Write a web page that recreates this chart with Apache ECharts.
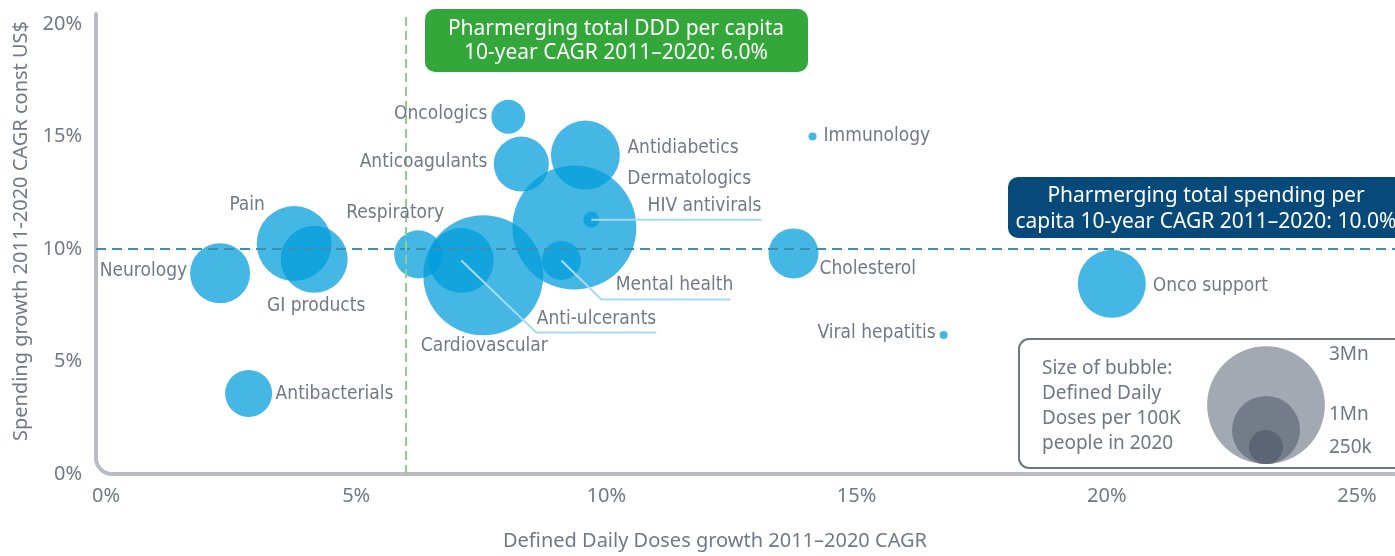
<!DOCTYPE html>
<html>
<head>
<meta charset="utf-8">
<title>Pharmerging therapy areas</title>
<script src="https://cdn.jsdelivr.net/npm/echarts@6/dist/echarts.min.js"></script>
<style>
  html, body { margin: 0; padding: 0; background: #fff; }
  #chart { width: 1395px; height: 556px; }
</style>
</head>
<body>
<div id="chart"></div>
<script>
// therapy areas
const categories = ['Neurology', 'Pain', 'GI products', 'Antibacterials', 'Respiratory', 'Cardiovascular',
  'Anti-ulcerants', 'Mental health', 'Dermatologics', 'HIV antivirals', 'Antidiabetics', 'Anticoagulants',
  'Oncologics', 'Immunology', 'Cholesterol', 'Viral hepatitis', 'Onco support']
// x: DDD growth 2011-2020 CAGR (%)
const dddGrowth = [2.28, 3.76, 4.16, 2.85, 6.24, 7.54, 7.1, 9.1, 9.36, 9.7, 9.58, 8.3, 8.04, 14.12, 13.74, 16.74, 20.1]
// y: spending growth 2011-2020 CAGR const US$ (%)
const spendGrowth = [8.92, 10.24, 9.54, 3.58, 9.76, 8.83, 9.49, 9.49, 10.95, 11.3, 14.17, 13.77, 15.87, 15.0, 9.8, 6.18, 8.45]
// bubble size: DDD per 100K people in 2020 (thousands)
const dddPer100k = [780, 1215, 970, 478, 500, 3115, 915, 330, 3325, 55, 1030, 655, 250, 14, 540, 14, 1000]

const xTicks = [0, 5, 10, 15, 20, 25]
const yTicks = [0, 5, 10, 15, 20]
const avgDddGrowth = 6.0
const avgSpendGrowth = 10.0

const legendSizes = [3000, 1000, 250]
const legendLabels = ['3Mn', '1Mn', '250k']

// bubble radius in px, area ~ DDD
function bubbleRadius(v) {
  return 34 * Math.sqrt(v / 1000)
}

// label placement (px offsets from bubble centre)
const labelLayout = {
  'Neurology': { dx: -33, dy: -2, align: 'right' },
  'Pain': { dx: -47, dy: -38, align: 'center' },
  'GI products': { dx: 2, dy: 47, align: 'center' },
  'Antibacterials': { dx: 27, dy: 1, align: 'left' },
  'Respiratory': { dx: -23, dy: -41, align: 'center' },
  'Cardiovascular': { dx: 1, dy: 71, align: 'center' },
  'Oncologics': { dx: -21, dy: -3, align: 'right' },
  'Anticoagulants': { dx: -34, dy: -2, align: 'right' },
  'Antidiabetics': { dx: 42, dy: -7, align: 'left' },
  'Dermatologics': { dx: 53, dy: -49, align: 'left' },
  'HIV antivirals': { dx: 170, dy: -14, align: 'right', leader: [[0, 0], [170, 0]] },
  'Immunology': { dx: 11, dy: 0, align: 'left' },
  'Cholesterol': { dx: 26, dy: 16, align: 'left' },
  'Viral hepatitis': { dx: -8, dy: -2, align: 'right' },
  'Onco support': { dx: 41, dy: 2, align: 'left' },
  'Mental health': { dx: 172, dy: 25, align: 'right', leader: [[0, 0], [40, 39], [169, 39]] },
  'Anti-ulcerants': { dx: 195, dy: 59, align: 'right', leader: [[0, 0], [75, 72], [195, 72]] }
}

const textGray = '#717987'
const labelFont = "'Liberation Sans Narrow', 'DejaVu Sans Condensed', 'Noto Sans', sans-serif"

const chart = echarts.init(document.getElementById('chart'), null, { renderer: 'canvas' })

const xMin = -0.2
const xMax = 25.76
const yMax = 20.44

chart.setOption({
  animation: false,
  grid: { left: 96, right: 0, top: 14, bottom: 79 },
  xAxis: {
    type: 'value',
    min: xMin,
    max: xMax,
    name: 'Defined Daily Doses growth 2011–2020 CAGR',
    nameLocation: 'middle',
    nameGap: 57,
    nameTextStyle: { color: textGray, fontSize: 20, fontFamily: 'Noto Sans', padding: [0, 61, 0, 0] },
    axisLine: { show: false },
    axisTick: { show: false },
    splitLine: { show: false },
    axisLabel: {
      customValues: xTicks,
      margin: 12,
      color: textGray,
      fontSize: 20,
      fontFamily: 'Noto Sans',
      formatter: v => v + '%'
    }
  },
  yAxis: {
    type: 'value',
    min: 0,
    max: yMax,
    name: 'Spending growth 2011-2020 CAGR const US$',
    nameLocation: 'middle',
    nameGap: 64,
    nameTextStyle: { color: textGray, fontSize: 20, fontFamily: 'Noto Sans', padding: [0, 0, 0, 26] },
    axisLine: { show: false },
    axisTick: { show: false },
    splitLine: { show: false },
    axisLabel: {
      customValues: yTicks,
      margin: 14,
      color: textGray,
      fontSize: 20,
      fontFamily: 'Noto Sans',
      formatter: v => v + '%'
    }
  },
  series: [
    {
      type: 'scatter',
      data: categories.map((name, i) => ({ name, value: [dddGrowth[i], spendGrowth[i], dddPer100k[i]] })),
      symbolSize: v => 2 * bubbleRadius(v[2]),
      itemStyle: { color: 'rgba(0, 156, 220, 0.73)', opacity: 1 },
      label: { show: false },
      z: 2,
      markLine: {
        silent: true,
        symbol: 'none',
        label: { show: false },
        data: [
          { yAxis: avgSpendGrowth, lineStyle: { color: '#3d8eb3', width: 2, type: [10, 6] } },
          { xAxis: avgDddGrowth, lineStyle: { color: '#8fcd8b', width: 2, type: [9, 5] } }
        ]
      }
    },
    {
      type: 'custom',
      clip: false,
      z: 5,
      data: categories.map((name, i) => [dddGrowth[i], spendGrowth[i]]),
      renderItem: function (params, api) {
        const name = categories[params.dataIndex]
        const lay = labelLayout[name]
        const p = api.coord([api.value(0), api.value(1)])
        const children = []
        if (lay.leader) {
          children.push({
            type: 'polyline',
            shape: { points: lay.leader.map(o => [p[0] + o[0], p[1] + o[1]]) },
            style: { stroke: '#a5dbf2', lineWidth: 2, fill: null }
          })
        }
        children.push({
          type: 'text',
          x: p[0] + lay.dx,
          y: p[1] + lay.dy,
          style: {
            text: name,
            fill: textGray,
            fontSize: 19,
            fontFamily: labelFont,
            align: lay.align,
            verticalAlign: 'middle'
          }
        })
        return { type: 'group', children }
      }
    }
  ]
})

// axis frame with rounded corner, legend and annotation boxes
const pTop = chart.convertToPixel({ gridIndex: 0 }, [xMin, yMax])
const pCorner = chart.convertToPixel({ gridIndex: 0 }, [xMin, 0])
const pRight = chart.convertToPixel({ gridIndex: 0 }, [xMax, 0])
const r = 16
const frameStyle = { stroke: '#b9bdc3', lineWidth: 4, fill: null, lineCap: 'round' }

const legendShades = ['#a3a9b2', '#737c88', '#5b6575']
const legendCx = 1266
const legendBottom = 464
const legendLabelY = [355, 415, 448]

const graphics = [
  {
    type: 'line', z: 1,
    shape: { x1: pTop[0], y1: pTop[1], x2: pCorner[0], y2: pCorner[1] - r },
    style: frameStyle
  },
  {
    type: 'arc', z: 1,
    shape: { cx: pCorner[0] + r, cy: pCorner[1] - r, r: r, startAngle: Math.PI / 2, endAngle: Math.PI, clockwise: true },
    style: frameStyle
  },
  {
    type: 'line', z: 1,
    shape: { x1: pCorner[0] + r, y1: pCorner[1], x2: pRight[0] + 10, y2: pRight[1] },
    style: frameStyle
  },
  {
    type: 'group',
    children: [
      { type: 'rect', shape: { x: 425, y: 9, width: 383, height: 63, r: 10 }, style: { fill: '#34a73b' } },
      {
        type: 'text', x: 616, y: 41,
        style: {
          text: 'Pharmerging total DDD per capita\n10-year CAGR 2011–2020: 6.0%',
          fill: '#fff', fontSize: 21, fontFamily: 'Noto Sans', lineHeight: 24,
          align: 'center', verticalAlign: 'middle'
        }
      }
    ]
  },
  {
    type: 'group',
    children: [
      { type: 'rect', shape: { x: 1008, y: 177, width: 400, height: 61, r: 10 }, style: { fill: '#074a7a' } },
      {
        type: 'text', x: 1206, y: 209,
        style: {
          text: 'Pharmerging total spending per\ncapita 10-year CAGR 2011–2020: 10.0%',
          fill: '#fff', fontSize: 21, fontFamily: 'Noto Sans', lineHeight: 26,
          align: 'center', verticalAlign: 'middle'
        }
      }
    ]
  },
  {
    type: 'group',
    children: [
      { type: 'rect', shape: { x: 1019, y: 339, width: 390, height: 129, r: 10 }, style: { fill: '#fff', stroke: '#6f7783', lineWidth: 2 } },
      {
        type: 'text', x: 1042, y: 406,
        style: {
          text: 'Size of bubble:\nDefined Daily\nDoses per 100K\npeople in 2020',
          fill: '#6f7783', fontSize: 19, fontFamily: 'Noto Sans', lineHeight: 25,
          align: 'left', verticalAlign: 'middle'
        }
      }
    ].concat(legendSizes.map((v, i) => ({
      type: 'circle',
      shape: { cx: legendCx, cy: legendBottom - bubbleRadius(v), r: bubbleRadius(v) },
      style: { fill: legendShades[i] }
    }))).concat(legendLabels.map((t, i) => ({
      type: 'text', x: 1329, y: legendLabelY[i],
      style: { text: t, fill: '#6f7783', fontSize: 19, fontFamily: 'Noto Sans', align: 'left', verticalAlign: 'middle' }
    })))
  }
]

chart.setOption({ graphic: graphics })
</script>
</body>
</html>
